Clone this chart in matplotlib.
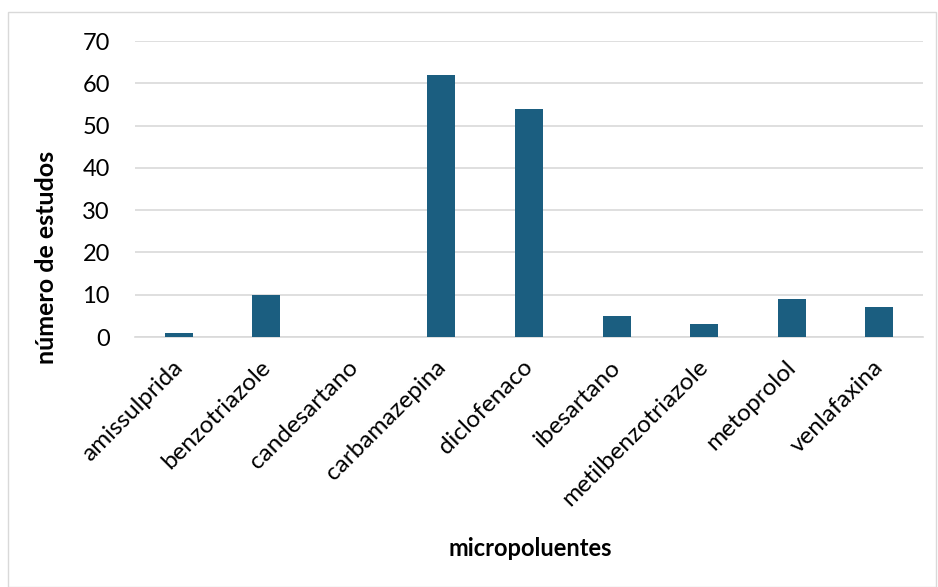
import matplotlib.pyplot as plt
import matplotlib.transforms as mtransforms
from matplotlib.patches import Rectangle

plt.rcParams['font.family'] = ['Lato', 'DejaVu Sans']

# data
categorias = ["amissulprida", "benzotriazole", "candesartano", "carbamazepina",
              "diclofenaco", "ibesartano", "metilbenzotriazole", "metoprolol", "venlafaxina"]
estudos = [1, 10, 0, 62, 54, 5, 3, 9, 7]
y_ticks = [0, 10, 20, 30, 40, 50, 60, 70]

fig = plt.figure(figsize=(9.38, 5.87), dpi=100)
# chart border, Excel style
fig.patches.append(Rectangle((8/938, 0), 1 - 8/938 - 0.002, 1 - 12/587,
                             transform=fig.transFigure, fill=False,
                             edgecolor='#d9d9d9', linewidth=1))

ax = fig.add_axes([135/938, 1 - 337/587, 788/938, 296/587])
x = range(len(categorias))
ax.bar(x, estudos, width=0.32, color='#1B5E80', zorder=3)

ax.set_xlim(-0.5, len(categorias) - 0.5)
ax.set_ylim(0, 70)
ax.set_yticks(y_ticks)
ax.yaxis.grid(True, color='#d9d9d9', linewidth=1.2, zorder=0)
for s in ['top', 'right', 'left']:
    ax.spines[s].set_visible(False)
ax.spines['bottom'].set_color('#d9d9d9')
ax.spines['bottom'].set_linewidth(1.2)
ax.tick_params(axis='both', length=0, colors='black')
ax.tick_params(axis='y', pad=18, labelsize=17)
ax.set_xticks(list(x))
ax.set_xticklabels(categorias, rotation=45, ha='right', rotation_mode='anchor')
ax.tick_params(axis='x', pad=14, labelsize=17.5)
# nudge the slanted labels a little to the left
shift = mtransforms.ScaledTranslation(-7/100, 0, fig.dpi_scale_trans)
for lab in ax.get_xticklabels():
    lab.set_transform(lab.get_transform() + shift)

fig.text(47/938, 1 - 257/587, "número de estudos", fontsize=18, fontweight='bold',
         rotation=90, ha='center', va='center')
fig.text(530/938, 1 - 549/587, "micropoluentes", fontsize=17, fontweight='bold',
         ha='center', va='center')

fig.savefig("out.png", dpi=100)
